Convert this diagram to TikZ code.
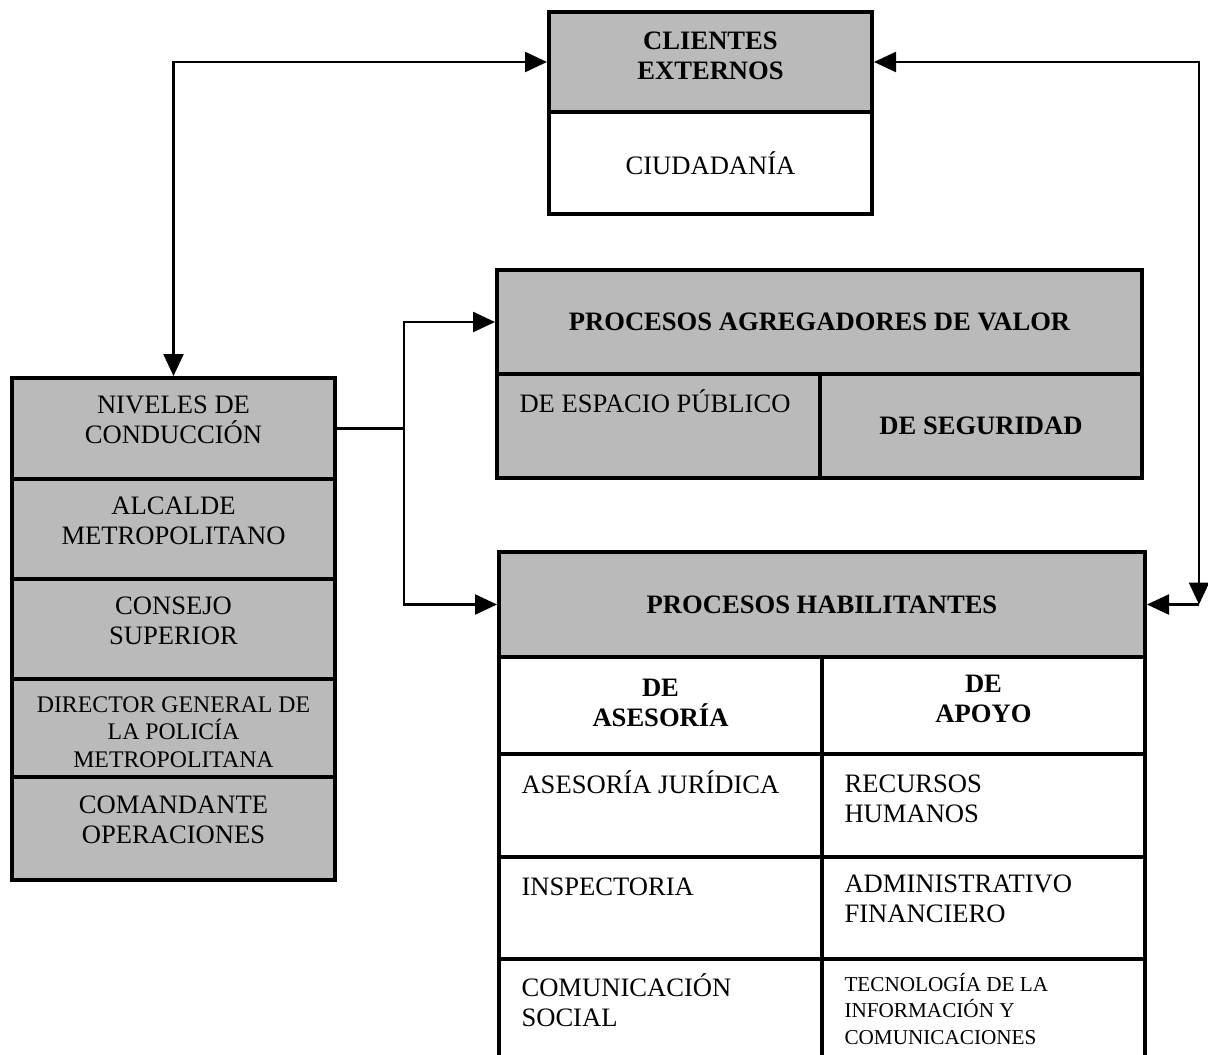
\documentclass[tikz,border=0pt]{standalone}
\usepackage{fontspec}
\setmainfont{Liberation Serif}
\usetikzlibrary{arrows.meta}

\begin{document}
\begin{tikzpicture}[x=0.5pt,y=-0.5pt,>={Triangle[length=11pt,width=10pt]},
		box/.style={draw,line width=2pt,rectangle,inner sep=0pt,anchor=north west,
			font=\fontsize{13.3}{15}\selectfont,align=center,minimum width=161.5pt},
		celda/.style={box,align=flush center,text width=139pt,inner xsep=11.25pt,text height=18.5pt},
		gris/.style={fill=black!27},
		negrita/.style={font=\fontsize{13.3}{15}\selectfont\bfseries},
		link/.style={line width=1.2pt}]
	\useasboundingbox (0,0) rectangle (1208,1054);
	\clip (0,0) rectangle (1208,1054);
	% clientes
	\node[celda,gris,negrita,text height=19pt,text depth=31pt] (clientes) at (547,10) {CLIENTES\\EXTERNOS};
	\node[box,minimum height=51pt] (ciudadania) at (547,110) {CIUDADANÍA};
	% niveles de conduccion
	\node[celda,gris,text height=17.5pt,text depth=33pt] (niveles) at (10,376) {NIVELES DE\\CONDUCCIÓN};
	\node[celda,gris,text height=17.5pt,text depth=32.5pt] (alcalde) at (10,477) {ALCALDE\\METROPOLITANO};
	\node[celda,gris,text height=17.5pt,text depth=32.5pt] (consejo) at (10,577) {CONSEJO\\SUPERIOR};
	\node[celda,gris,text height=16.5pt,text depth=32.5pt,text width=150pt,inner xsep=5.75pt,
		font=\fontsize{11.9}{13.8}\selectfont] (director) at (10,677) {DIRECTOR GENERAL DE\\LA POLICÍA\\METROPOLITANA};
	\node[celda,gris,text height=18pt,text depth=33.5pt] (comandante) at (10,775) {COMANDANTE\\OPERACIONES};
	% agregadores de valor
	\node[box,gris,negrita,minimum width=322.5pt,minimum height=52pt] (valor) at (495,268) {PROCESOS AGREGADORES DE VALOR};
	\node[celda,gris,align=flush left,text height=19pt,text depth=33pt] (espacio) at (495,372) {DE ESPACIO PÚBLICO};
	\node[box,gris,negrita,minimum width=161pt,minimum height=52pt] (seguridad) at (818,372) {DE SEGURIDAD};
	% habilitantes
	\node[box,gris,negrita,minimum width=323pt,minimum height=52.5pt] (habil) at (497,550) {PROCESOS HABILITANTES};
	\node[celda,negrita,text height=19.5pt,text depth=29pt] (asesoria) at (497,655) {DE\\ASESORÍA};
	\node[celda,negrita,text height=17.5pt,text depth=31pt] (apoyo) at (820,655) {DE\\APOYO};
	\node[celda,align=flush left,text height=19.5pt,text depth=32pt] (juridica) at (497,752) {ASESORÍA JURÍDICA};
	\node[celda,align=flush left,text height=19pt,text depth=32.5pt] (rrhh) at (820,752) {RECURSOS\\HUMANOS};
	\node[celda,align=flush left,text height=19pt,text depth=32pt] (inspectoria) at (497,855) {INSPECTORIA};
	\node[celda,align=flush left,text height=17.5pt,text depth=33.5pt] (admin) at (820,855) {ADMINISTRATIVO\\FINANCIERO};
	\node[celda,align=flush left,text depth=37pt] (comunicacion) at (497,957) {COMUNICACIÓN\\SOCIAL};
	\node[celda,align=flush left,text height=16pt,text depth=40pt,
		font=\fontsize{10.6}{13.3}\selectfont] (tecnologia) at (820,957) {TECNOLOGÍA DE LA\\INFORMACIÓN Y\\COMUNICACIONES};
	% conectores
	\path (habil.east) ++(52,0) coordinate (esquina);
	\path (niveles.east) ++(67,0) coordinate (bus);
	\draw[link,<->] (niveles.north) |- (clientes.west);
	\draw[link,<->] (clientes.east) -| (esquina);
	\draw[link,->] (esquina) -- (habil.east);
	\draw[link] (niveles.east) -- (bus);
	\draw[link,->] (bus) |- (valor.west);
	\draw[link,->] (bus) |- (habil.west);
\end{tikzpicture}
\end{document}
